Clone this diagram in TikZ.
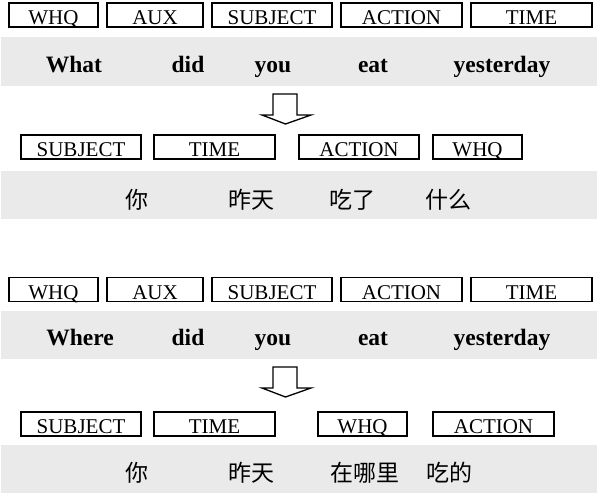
\documentclass[tikz,border=0pt]{standalone}
\usepackage{fontspec}
\setmainfont{Liberation Serif}
\newfontfamily\zhfont{Noto Sans CJK SC}
\usepackage{tikz}
\usetikzlibrary{positioning}

\definecolor{bandgray}{HTML}{EAEAEA}

\begin{document}
\begin{tikzpicture}[x=1pt, y=-1pt,
    tag/.style={rectangle, draw, line width=1.3pt, minimum height=24pt, inner sep=0pt, outer sep=0pt,
        text height=19pt, text depth=0pt, font=\fontsize{21}{24}\selectfont},
    word/.style={anchor=base, font=\fontsize{23.5}{26}\selectfont\bfseries},
    zh/.style={font=\fontsize{23}{26}\selectfont\zhfont},
    turn/.style={draw, line width=1.3pt, fill=white}]
        \useasboundingbox (0,0) rectangle (597,493);

        % Grey strips behind the sentences
        \fill[bandgray] (1,37) rectangle (597,86);
        \fill[bandgray] (1,171) rectangle (597,219);
        \fill[bandgray] (1,311) rectangle (597,359);
        \fill[bandgray] (1,445) rectangle (597,493);

        % English order, first sentence
        \node (whqA) [tag, minimum width=89pt] at (53.5,15) {WHQ};
        \node (auxA) [tag, minimum width=96pt, right=9pt of whqA] {AUX};
        \node (subjA) [tag, minimum width=120pt, right=9pt of auxA] {SUBJECT};
        \node (actA) [tag, minimum width=121pt, right=9pt of subjA] {ACTION};
        \node (timeA) [tag, minimum width=121pt, right=9pt of actA] {TIME};

        \node (wA1) [word] at (74,72.5) {What};
        \node (wA2) [word] at (188,72.5) {did};
        \node (wA3) [word] at (273,72.5) {you};
        \node (wA4) [word] at (373,72.5) {eat};
        \node (wA5) [word] at (502,72.5) {yesterday};

        % Chinese order, first sentence
        \node (subjB) [tag, minimum width=120pt] at (81,147) {SUBJECT};
        \node (timeB) [tag, minimum width=121pt, right=13pt of subjB] {TIME};
        \node (actB) [tag, minimum width=120pt, right=24pt of timeB] {ACTION};
        \node (whqB) [tag, minimum width=89pt, right=14pt of actB] {WHQ};

        \node (zB1) [zh] at (137,200) {你};
        \node (zB2) [zh] at (251,200) {昨天};
        \node (zB3) [zh] at (352,200) {吃了};
        \node (zB4) [zh] at (448,200) {什么};

        % English order, second sentence
        \node (whqC) [tag, minimum width=89pt] at (53.5,289.5) {WHQ};
        \node (auxC) [tag, minimum width=96pt, right=9pt of whqC] {AUX};
        \node (subjC) [tag, minimum width=120pt, right=9pt of auxC] {SUBJECT};
        \node (actC) [tag, minimum width=121pt, right=9pt of subjC] {ACTION};
        \node (timeC) [tag, minimum width=121pt, right=9pt of actC] {TIME};

        \node (wC1) [word] at (80,345) {Where};
        \node (wC2) [word] at (188,345) {did};
        \node (wC3) [word] at (273,345) {you};
        \node (wC4) [word] at (373,345) {eat};
        \node (wC5) [word] at (502,345) {yesterday};

        % Chinese order, second sentence
        \node (subjD) [tag, minimum width=120pt] at (81,424) {SUBJECT};
        \node (timeD) [tag, minimum width=121pt, right=13pt of subjD] {TIME};
        \node (whqD) [tag, minimum width=89pt, right=43pt of timeD] {WHQ};
        \node (actD) [tag, minimum width=121pt, right=26pt of whqD] {ACTION};

        \node (zD1) [zh] at (137,473) {你};
        \node (zD2) [zh] at (251,473) {昨天};
        \node (zD3) [zh] at (365,473) {在哪里};
        \node (zD4) [zh] at (449,473) {吃的};

        % Hollow arrows between the two orders
        \foreach \ay in {94,367}
            \draw[turn] (273,\ay) -- (297,\ay) -- (297,\ay+21) -- (311,\ay+21)
                -- (285.5,\ay+30) -- (262,\ay+21) -- (273,\ay+21) -- cycle;
\end{tikzpicture}
\end{document}
